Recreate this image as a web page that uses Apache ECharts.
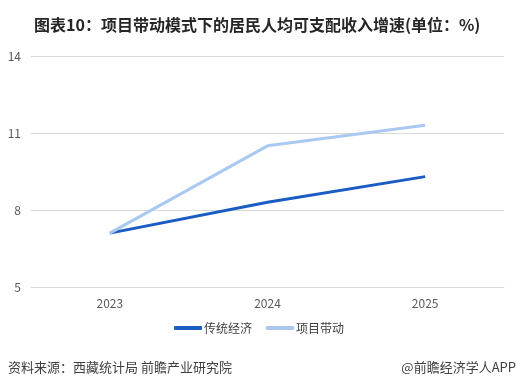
<!DOCTYPE html>
<html><head><meta charset="utf-8">
<script src="https://cdn.jsdelivr.net/npm/echarts@6/dist/echarts.min.js"></script>
<style>html,body{margin:0;padding:0;background:#fff}#c{width:518px;height:388px}</style>
</head><body><div id="c"></div>
<script>
var categories = ['2023', '2024', '2025'];
var traditional = [7.1, 8.3, 9.3];
var project = [7.1, 10.5, 11.3];
var yTicks = [5, 8, 11, 14];
var seriesNames = ['传统经济', '项目带动'];
var titleText = '图表10：项目带动模式下的居民人均可支配收入增速(单位：%)';
var sourceText = '资料来源：西藏统计局 前瞻产业研究院';
var brandText = '@前瞻经济学人APP';

var FONT = '"Noto Sans CJK SC", "Noto Sans", sans-serif';
var chart = echarts.init(document.getElementById('c'), null, {renderer: 'canvas'});
chart.setOption({
  animation: false,
  backgroundColor: '#fff',
  textStyle: {fontFamily: FONT},
  title: {
    text: titleText, left: 29, top: 12,
    textStyle: {fontSize: 16, fontWeight: 'bold', color: '#262626', fontFamily: FONT}
  },
  grid: {left: 31, right: 14, top: 56, bottom: 101, containLabel: false},
  xAxis: {
    type: 'category', data: categories, boundaryGap: true,
    axisLine: {show: true, lineStyle: {color: '#d9d9d9'}},
    axisTick: {show: false},
    axisLabel: {color: '#595959', fontSize: 12, margin: 10, fontFamily: FONT}
  },
  yAxis: {
    type: 'value', min: yTicks[0], max: yTicks[yTicks.length - 1], interval: 3,
    axisLine: {show: false}, axisTick: {show: false},
    splitLine: {lineStyle: {color: '#d9d9d9'}},
    axisLabel: {color: '#595959', fontSize: 12, margin: 10, fontFamily: FONT}
  },
  legend: {
    data: seriesNames, bottom: 49, left: 'center', itemWidth: 28, itemHeight: 4,
    itemGap: 14, icon: 'roundRect',
    textStyle: {color: '#404040', fontSize: 12, fontFamily: FONT, padding: [0, 0, 0, -3]}
  },
  series: [
    {name: seriesNames[0], type: 'line', data: traditional, symbol: 'none',
     lineStyle: {width: 3, color: '#1a5cc4'}, itemStyle: {color: '#1a5cc4'}},
    {name: seriesNames[1], type: 'line', data: project, symbol: 'none',
     lineStyle: {width: 3, color: '#a9c9f2'}, itemStyle: {color: '#a9c9f2'}}
  ],
  graphic: [
    {type: 'text', left: 8, top: 361, style: {text: sourceText, fontSize: 13, fill: '#404040', fontFamily: FONT}},
    {type: 'text', right: 2, top: 361, style: {text: brandText, fontSize: 13, fill: '#404040', fontFamily: FONT}}
  ]
});
</script></body></html>
